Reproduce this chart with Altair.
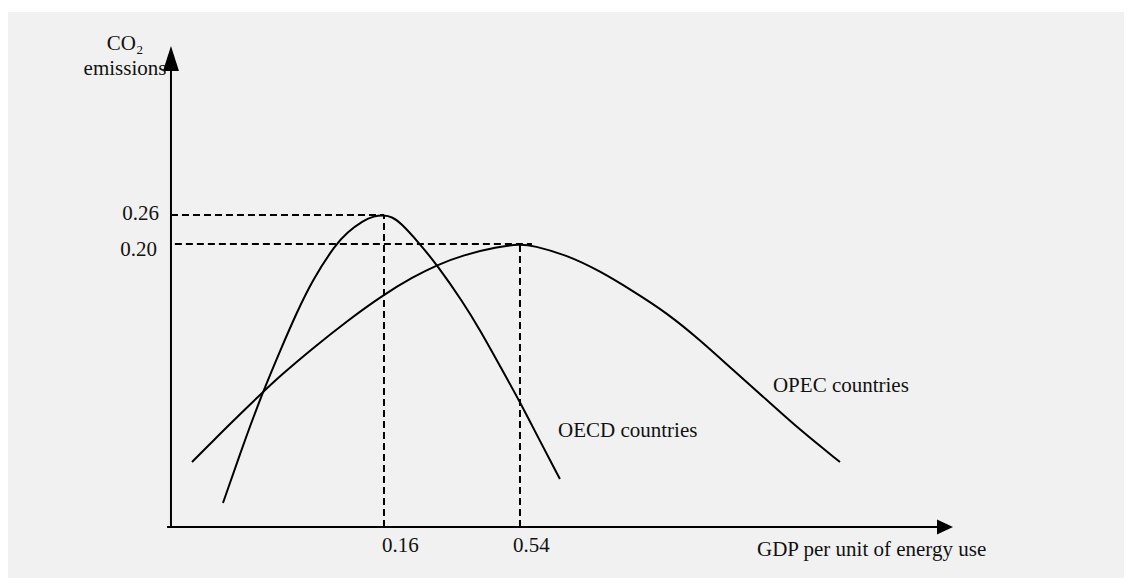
import altair as alt
import pandas as pd

# Schematic units: x = 0 at the vertical axis, 100 at the arrow tip;
# y = 0 at the horizontal axis, 100 at the arrow tip.
oecd_x = [6.65, 9.72, 11.76, 13.94, 16.11, 18.16, 21.10, 22.51, 24.55, 25.96,
          27.24, 28.26, 29.28, 31.84, 34.02, 37.34, 39.51, 42.07, 44.63, 47.19, 49.74]
oecd_y = [4.99, 19.33, 28.07, 36.59, 44.70, 51.56, 58.84, 61.23, 63.70, 64.66,
          64.86, 64.45, 63.41, 58.84, 54.47, 46.78, 40.96, 33.47, 25.99, 17.88, 9.98]

opec_x = [2.69, 5.37, 7.54, 11.76, 13.94, 18.16, 22.51, 27.11, 30.95, 34.02,
          37.34, 41.69, 44.63, 46.29, 50.64, 54.86, 59.08, 63.43, 67.65, 71.87,
          76.21, 80.43, 85.55]
opec_y = [13.51, 17.88, 21.41, 28.07, 31.39, 37.21, 42.83, 48.23, 51.98, 54.47,
          56.55, 58.21, 58.84, 58.52, 56.55, 53.22, 49.06, 44.49, 38.88, 32.64,
          26.40, 20.17, 13.51]

series_names = ["OECD countries", "OPEC countries"]
series_label_x = [49.49, 76.98]
series_label_y = [18.71, 28.07]

x_tick_pos = [27.24, 44.63]
x_tick_labels = ["0.16", "0.54"]
x_label_x = [26.98, 43.73]
x_label_y = [-5.20, -5.20]
y_tick_pos = [64.86, 58.84]
y_tick_labels = ["0.26", "0.20"]
y_label_x = [-1.53, -1.79]
y_label_y = [63.83, 56.34]
dash_h_start = [0.0, 0.5]
dash_h_end = [27.24, 46.16]

x_title = "GDP per unit of energy use"
x_title_pos = [74.94, -6.03]
y_title_main = "CO"
y_title_main_pos = [-4.48, 99.17]
y_title_sub = "2"
y_title_sub_pos = [-4.42, 98.34]
y_title_line2 = "emissions"
y_title_line2_pos = [-5.88, 93.97]

X_DOMAIN = [-20.84, 121.87]
Y_DOMAIN = [-10.60, 107.07]
FONT = "Liberation Serif"
FS = 21

xs = alt.Scale(domain=X_DOMAIN, nice=False, zero=False)
ys = alt.Scale(domain=Y_DOMAIN, nice=False, zero=False)


def X(f="x"):
    return alt.X(f"{f}:Q", scale=xs, axis=None)


def Y(f="y"):
    return alt.Y(f"{f}:Q", scale=ys, axis=None)


curves = pd.DataFrame(
    [{"series": series_names[0], "x": a, "y": b, "i": i} for i, (a, b) in enumerate(zip(oecd_x, oecd_y))]
    + [{"series": series_names[1], "x": a, "y": b, "i": i} for i, (a, b) in enumerate(zip(opec_x, opec_y))]
)

lines = alt.Chart(curves).mark_line(
    color="black", strokeWidth=2, interpolate="basis"
).encode(x=X(), y=Y(), detail="series:N", order="i:Q")

# dashed guide lines
dash_rows = []
for i in range(2):
    dash_rows.append({"x": dash_h_start[i], "x2": dash_h_end[i], "y": y_tick_pos[i], "y2": y_tick_pos[i]})
    dash_rows.append({"x": x_tick_pos[i], "x2": x_tick_pos[i], "y": 0.0, "y2": y_tick_pos[i]})
dashes = alt.Chart(pd.DataFrame(dash_rows)).mark_rule(
    color="black", strokeWidth=2, strokeDash=[7, 4]
).encode(x=X(), x2="x2:Q", y=Y(), y2="y2:Q")

# axes with arrows
axes_df = pd.DataFrame([
    {"x": 0.0, "x2": 0.0, "y": 0.0, "y2": 97.4},
    {"x": -0.5, "x2": 98.98, "y": 0.0, "y2": 0.0},
])
axes = alt.Chart(axes_df).mark_rule(color="black", strokeWidth=2).encode(
    x=X(), x2="x2:Q", y=Y(), y2="y2:Q"
)

up_arrow = alt.Chart(pd.DataFrame([{"x": 0.0, "y": 97.4}])).mark_point(
    shape="M0,-1L0.64,1L-0.64,1Z", size=625, filled=True, color="black", opacity=1
).encode(x=X(), y=Y())
right_arrow = alt.Chart(pd.DataFrame([{"x": 98.98, "y": 0.0}])).mark_point(
    shape="M1,0L-1,0.94L-1,-0.94Z", size=256, filled=True, color="black", opacity=1
).encode(x=X(), y=Y())


def text_layer(df, align, size=FS):
    return alt.Chart(df).mark_text(
        align=align, baseline="alphabetic", font=FONT, fontSize=size, color="#111111"
    ).encode(x=X(), y=Y(), text="t:N")


left_txt = pd.DataFrame(
    [{"x": x_label_x[i], "y": x_label_y[i], "t": x_tick_labels[i]} for i in range(2)]
    + [{"x": x_title_pos[0], "y": x_title_pos[1], "t": x_title}]
    + [{"x": series_label_x[i], "y": series_label_y[i], "t": series_names[i]} for i in range(2)]
)
right_txt = pd.DataFrame(
    [{"x": y_label_x[i], "y": y_label_y[i], "t": y_tick_labels[i]} for i in range(2)]
    + [{"x": y_title_main_pos[0], "y": y_title_main_pos[1], "t": y_title_main}]
)
center_txt = pd.DataFrame([{"x": y_title_line2_pos[0], "y": y_title_line2_pos[1], "t": y_title_line2}])
sub_txt = pd.DataFrame([{"x": y_title_sub_pos[0], "y": y_title_sub_pos[1], "t": y_title_sub}])

chart = alt.layer(
    dashes,
    lines,
    axes,
    up_arrow,
    right_arrow,
    text_layer(left_txt, "left"),
    text_layer(right_txt, "right"),
    text_layer(center_txt, "center"),
    text_layer(sub_txt, "left", 13),
).properties(
    width=1116,
    height=566,
    padding={"left": 0, "top": 4, "right": 0, "bottom": 0},
    autosize=alt.AutoSizeParams(type="none"),
    background="white",
).configure_view(fill="#f1f1f1", stroke=None)

chart.save("out.html", embed_options={"renderer": "svg", "actions": False})
